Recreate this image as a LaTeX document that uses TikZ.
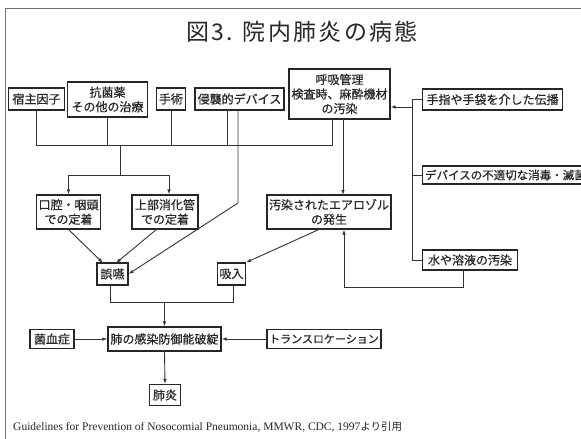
\documentclass[tikz,border=0pt]{standalone}
\usepackage{fontspec}
\setmainfont{Noto Sans CJK JP}
\newfontfamily\boxfont{Noto Sans CJK JP}[FakeBold=0.5]
\newfontfamily\capfont{Liberation Serif}
\newfontfamily\jpfont{Noto Sans CJK JP}
\newfontfamily\titlefont{Noto Sans CJK JP}[LetterSpace=10]
\usetikzlibrary{arrows.meta}
\tikzset{
  bx/.style={draw=black!85, line width=1.1pt, fill=white, inner sep=0pt, align=center,
    text=black!85, font=\boxfont\fontsize{12}{14.5}\selectfont},
  ln/.style={draw=black!80, line width=0.9pt},
  ar/.style={ln, -{Latex[length=5pt,width=3.5pt]}},
  frame/.style={draw=black!55, line width=0.8pt}
}
\begin{document}
\begin{tikzpicture}[x=1pt,y=-1pt]
\useasboundingbox (0,0) rectangle (581,439);
\fill[white] (0,0) rectangle (581,439);
\draw[frame] (5,445) -- (5,8) -- (590,8);
\node[text=black!85, font=\titlefont\fontsize{23}{26}\selectfont] (title) at (302,32) {図3. 院内肺炎の病態};
% top row
\node[bx, minimum width=56pt, minimum height=22pt] (host) at (36.5,99) {宿主因子};
\node[bx, minimum width=80pt, minimum height=35pt] (abx) at (107.5,99.5) {抗菌薬\\その他の治療};
\node[bx, minimum width=29pt, minimum height=22pt] (surg) at (171,99) {手術};
\node[bx, minimum width=89pt, minimum height=22pt] (dev) at (239.5,99) {侵襲的デバイス};
\node[bx, minimum width=101pt, minimum height=50pt] (resp) at (339.5,94) {呼吸管理\\検査時、麻酔機材\\の汚染};
\node[bx, minimum height=21pt, inner xsep=4pt, anchor=west] (hand) at (422,99.5) {手指や手袋を介した伝播};
\node[bx, minimum height=18pt, inner xsep=2.5pt, anchor=west, font=\boxfont\fontsize{11.5}{14}\selectfont] (devdis) at (422,175) {デバイスの不適切な消毒・滅菌};
\node[bx, minimum width=95pt, minimum height=20pt, anchor=west] (water) at (422,260) {水や溶液の汚染};
% middle
\node[bx, minimum width=64pt, minimum height=34pt] (oral) at (68.5,212) {口腔・咽頭\\での定着};
\node[bx, minimum width=66pt, minimum height=34pt] (upper) at (165,212) {上部消化管\\での定着};
\node[bx, minimum width=124pt, minimum height=34pt] (aero) at (329,212) {汚染されたエアロゾル\\の発生};
\node[bx, minimum width=31pt, minimum height=22pt] (asp) at (112.5,274) {誤嚥};
\node[bx, minimum width=28pt, minimum height=22pt] (inh) at (231.5,274) {吸入};
% bottom
\node[bx, minimum width=113pt, minimum height=24pt] (lung) at (164.5,339) {肺の感染防御能破綻};
\node[bx, minimum width=44pt, minimum height=19pt] (bact) at (52,339) {菌血症};
\node[bx, minimum width=114pt, minimum height=19pt, font=\boxfont\fontsize{11}{14}\selectfont] (trans) at (324,339) {トランスロケーション};
\node[bx, minimum width=31pt, minimum height=21pt] (pneu) at (165,395) {肺炎};
\node[anchor=west, inner sep=0pt, text=black!85, font=\fontsize{11.5}{13}\selectfont] (cap) at (13,427)
  {{\capfont Guidelines for Prevention of Nosocomial Pneumonia, MMWR, CDC, 1997}{\jpfont\fontsize{10.5}{13}\selectfont より引用}};
% bus from top row
\coordinate (b1) at (36.5,145);
\coordinate (b2) at (332,145);
\draw[ln] (host.south) -- (b1) -- (b2) -- (b2 |- resp.south);
\draw[ln] (abx.south) -- (abx.south |- b1);
\draw[ln] (surg.south) -- (surg.south |- b1);
\draw[ln] (227,110) -- (227,145);
% split to oral/upper
\coordinate (s0) at (120,145);
\coordinate (s1) at (120,175);
\coordinate (sl) at (68.5,175);
\coordinate (sr) at (169,175);
\draw[ln] (s0) -- (s1);
\draw[ar] (s1) -- (sl) -- (oral.north);
\draw[ar] (s1) -- (sr) -- (sr |- upper.north);
% invasive device to aspiration
\coordinate (d0) at (238,110);
\coordinate (d1) at (238,203);
\draw[ar] (d0) -- (d1) -- (asp.east);
% resp to aerosol
\draw[ar] (343,119) -- (343,195);
% to aspiration
\draw[ar] (68,229) -- (103,263);
\draw[ar] (157,229) -- (116,263);
% aerosol to inhalation
\draw[ar] (320,229) -- (inh.north east);
% right column
\coordinate (v0) at (412,99.5);
\coordinate (v1) at (412,260);
\draw[ln] (hand.west) -- (v0) -- (v1) -- (water.west);
\draw[ln] (412,175) -- (devdis.west);
\draw[ar] (412,107) -- (resp.east |- 0,107);
% water to aerosol
\coordinate (w0) at (463,287);
\coordinate (w1) at (344,287);
\draw[ar] (463,270) -- (w0) -- (w1) -- (aero.south -| w1);
% merge to lung
\coordinate (m1) at (110,302);
\coordinate (m2) at (233,302);
\draw[ln] (asp.south -| m1) -- (m1) -- (m2) -- (inh.south -| m2);
\draw[ar] (164.5,302) -- (lung.north);
\draw[ar] (bact.east) -- (lung.west);
\draw[ar] (trans.west) -- (lung.east);
\draw[ar] (lung.south) -- (pneu.north);
\end{tikzpicture}
\end{document}
